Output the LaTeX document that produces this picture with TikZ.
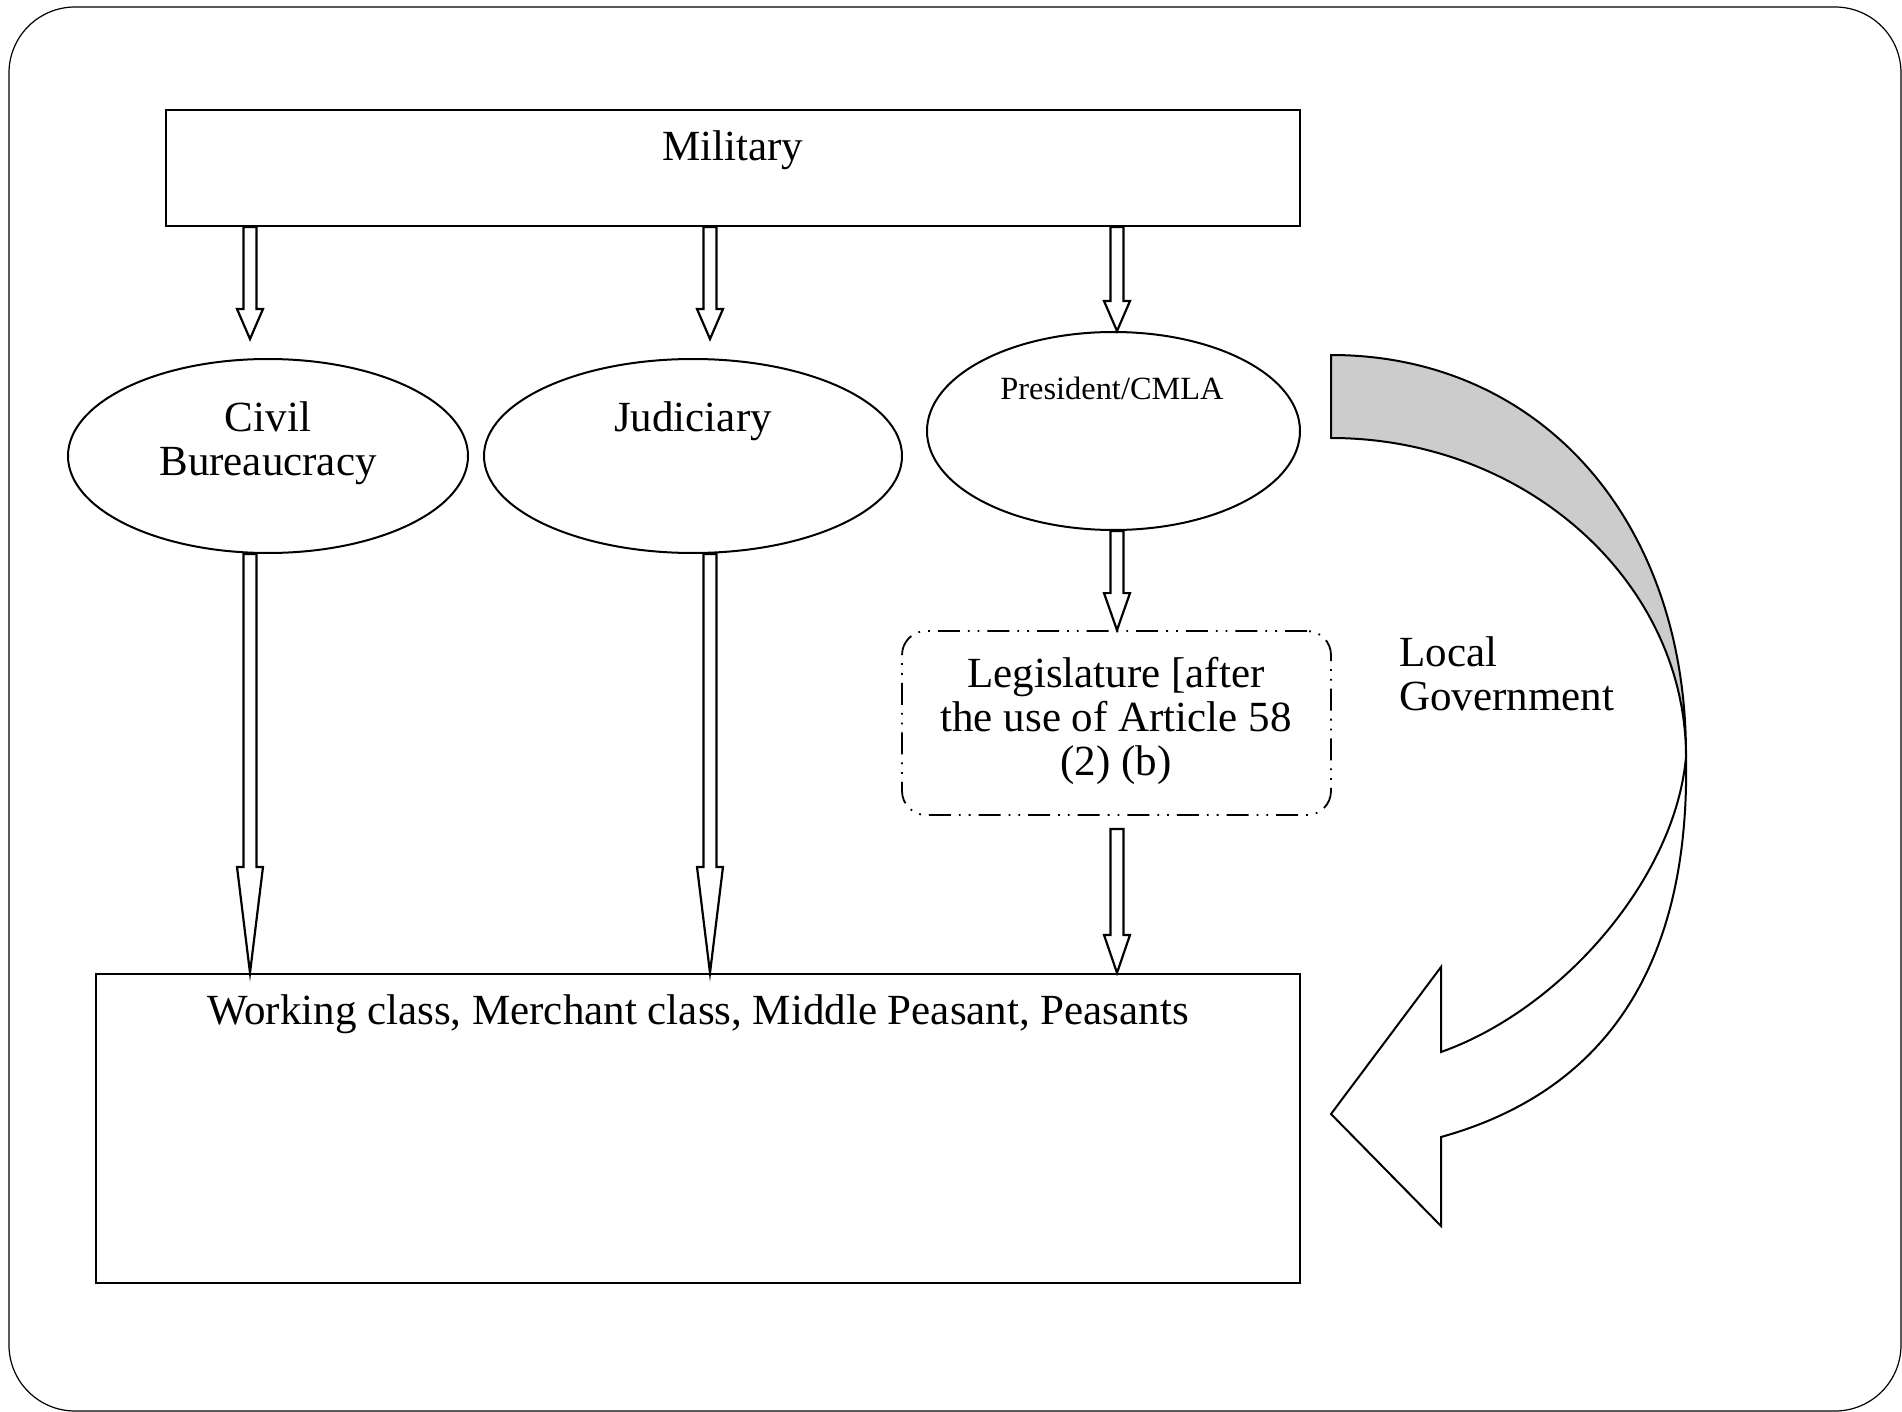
\documentclass[tikz,border=0pt]{standalone}
\usepackage{fontspec}
\setmainfont{Liberation Serif}
\usetikzlibrary{calc,shapes.geometric}

% hollow block arrow pointing down: top end, tip, head length
\newcommand{\hollowdown}[3]{%
  \draw [arrowbody] ($(#1)+(-6.5,0)$) -- ($(#2)+(-6.5,-#3)$) -- ($(#2)+(-13,-#3)$) -- (#2)
    -- ($(#2)+(13,-#3)$) -- ($(#2)+(6.5,-#3)$) -- ($(#1)+(6.5,0)$) -- cycle;}

\begin{document}
\begin{tikzpicture}[x=0.5pt,y=0.5pt,yscale=-1,
  txt/.style={font=\fontsize{21.5}{22}\selectfont, inner sep=0pt, align=center},
  plainbox/.style={draw, line width=1.1pt, inner sep=0pt},
  oval/.style={draw, ellipse, line width=1pt, inner sep=0pt},
  arrowbody/.style={draw, fill=white, line width=1.1pt, line join=miter}]
	\useasboundingbox (0,0) rectangle (1902,1412);
	
	%Shape: Rounded Frame
	\draw [line width=0.6pt, rounded corners=33pt] (9,7) rectangle (1901,1411);
	
	%Shape: Rectangle
	\node (mil) [plainbox, minimum width=567pt, minimum height=58pt] at (733,168) {};
	%Shape: Ellipse
	\node (civ) [oval, minimum width=200pt, minimum height=97pt] at (268,456) {};
	%Shape: Ellipse
	\node (jud) [oval, minimum width=209pt, minimum height=97pt] at (693,456) {};
	%Shape: Ellipse
	\node (pres) [oval, minimum width=186.5pt, minimum height=99pt] at (1113.5,431) {};
	%Shape: Rounded Rect
	\node (leg) [draw, line width=0.9pt, rounded corners=12pt, inner sep=0pt, minimum width=214.5pt, minimum height=92pt,
	  dash pattern=on 11pt off 4pt on 0.9pt off 4pt on 0.9pt off 4pt] at (1116.5,723) {};
	%Shape: Rectangle
	\node (base) [plainbox, minimum width=602pt, minimum height=154.5pt] at (698,1128.5) {};
	
	% Text Node
	\node (miltxt) [txt] at (733,150) {Military};
	% Text Node
	\node (civtxt) [txt] at (268,443) {Civil\\Bureaucracy};
	% Text Node
	\node (judtxt) [txt] at (693,421) {Judiciary};
	% Text Node
	\node (prestxt) [txt, font=\fontsize{16.2}{18}\selectfont] at (1112,388) {President/CMLA};
	% Text Node
	\node (legtxt) [txt] at (1116,721) {Legislature [after\\the use of Article 58\\(2) (b)};
	% Text Node
	\node (localtxt) [txt, align=left, anchor=west] at (1399,674) {Local\\Government};
	% Text Node
	\node (basetxt) [txt] at (698,1014) {Working class, Merchant class, Middle Peasant, Peasants};
	
	% arrow columns and free ends
	\coordinate (colA) at (250,0);
	\coordinate (colB) at (710,0);
	\coordinate (colC) at (1117,0);
	\coordinate (civtop) at ($(civ.north -| colA)+(0,-19)$);
	\coordinate (judtop) at ($(jud.north -| colB)+(0,-19)$);
	\coordinate (legbot) at ($(leg.south -| colC)+(0,13)$);
	
	%Block Arrows
	\hollowdown{mil.south -| colA}{civtop}{30}
	\hollowdown{mil.south -| colB}{judtop}{30}
	\hollowdown{mil.south -| colC}{pres.north -| colC}{30}
	\hollowdown{civ.south -| colA}{base.north -| colA}{106}
	\hollowdown{jud.south -| colB}{base.north -| colB}{106}
	\hollowdown{pres.south -| colC}{leg.north -| colC}{37}
	\hollowdown{legbot}{base.north -| colC}{38}
	
	%Shape: Curved Arrow [back]
	\draw [line width=1pt, fill=black!20] (1331,355) .. controls (1540,355) and (1687,520) .. (1686,757)
	  .. controls (1686,582) and (1526,438) .. (1331,438) -- cycle;
	%Shape: Curved Arrow [front]
	\draw [line width=1pt, fill=white, line join=miter] (1686,757) .. controls (1690,960) and (1610,1090) .. (1441,1137)
	  -- (1441,1226) -- (1331,1114) -- (1441,967) -- (1441,1052)
	  .. controls (1560,1010) and (1675,880) .. (1686,757) -- cycle;
	
\end{tikzpicture}
\end{document}
